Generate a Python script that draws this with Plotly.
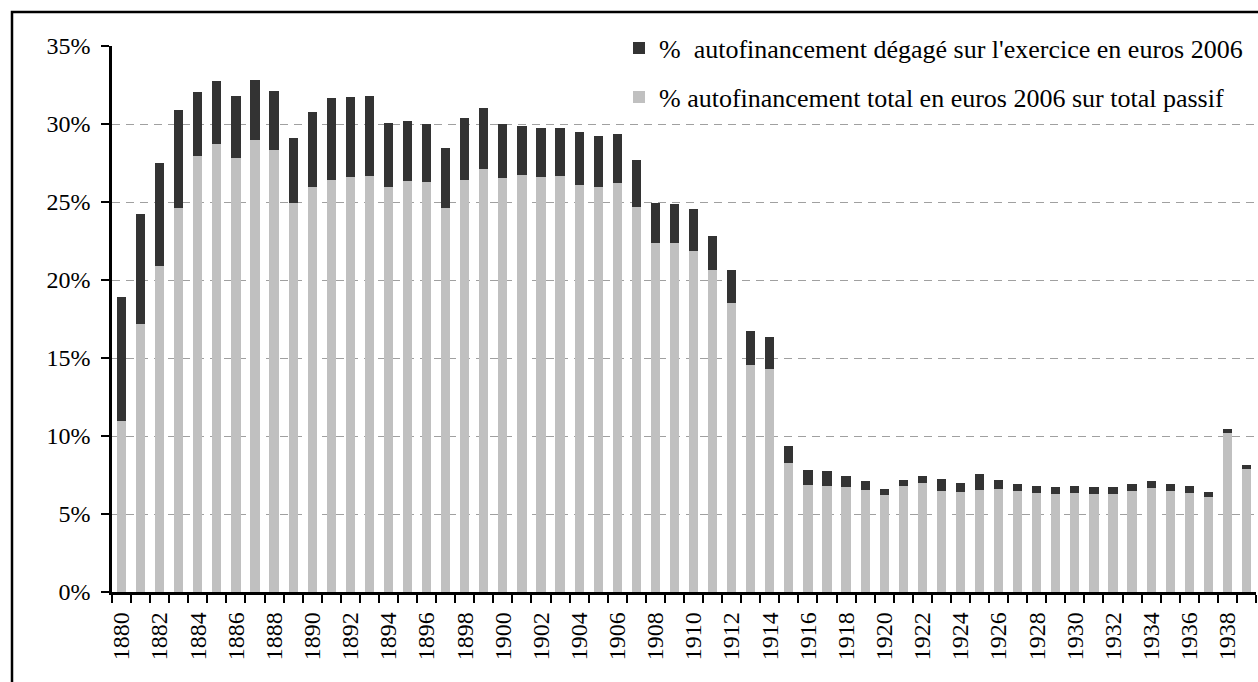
import plotly.graph_objects as go

years = list(range(1880, 1940))

# % autofinancement total en euros 2006 sur total passif (grey, bottom)
total_pct = [10.98, 17.18, 20.87, 24.64, 27.92, 28.71, 27.81, 28.97, 28.33, 24.92,
             25.99, 26.38, 26.59, 26.64, 25.95, 26.33, 26.26, 24.59, 26.38, 27.09,
             26.52, 26.71, 26.59, 26.64, 26.07, 25.95, 26.19, 24.71, 22.40, 22.40,
             21.87, 20.66, 18.54, 14.53, 14.27, 8.24, 6.87, 6.82, 6.75, 6.56,
             6.24, 6.82, 7.01, 6.50, 6.43, 6.56, 6.62, 6.50, 6.37, 6.30,
             6.37, 6.30, 6.30, 6.50, 6.69, 6.50, 6.37, 6.11, 10.21, 7.91]

# % autofinancement dégagé sur l'exercice en euros 2006 (dark, stacked on top)
exercice_pct = [7.94, 7.03, 6.60, 6.26, 4.13, 4.05, 4.00, 3.86, 3.79, 4.17,
                4.77, 5.29, 5.15, 5.17, 4.12, 3.86, 3.74, 3.86, 4.00, 3.93,
                3.48, 3.14, 3.15, 3.10, 3.40, 3.26, 3.16, 2.98, 2.52, 2.45,
                2.65, 2.19, 2.12, 2.20, 2.08, 1.15, 0.97, 0.96, 0.71, 0.58,
                0.38, 0.38, 0.45, 0.76, 0.58, 1.03, 0.58, 0.44, 0.45, 0.45,
                0.45, 0.45, 0.45, 0.44, 0.45, 0.44, 0.45, 0.32, 0.26, 0.25]

label_years = list(range(1880, 1940, 2))
y_ticks = [0, 5, 10, 15, 20, 25, 30, 35]

name_total = "% autofinancement total en euros 2006 sur total passif"
name_exercice = "%\u00a0 autofinancement dégagé sur l'exercice en euros 2006"

FONT = "Liberation Serif, Times New Roman, serif"
FS = 24
LFS = 26

fig = go.Figure()
fig.add_trace(go.Bar(x=years, y=total_pct, name=name_total, legend="legend2",
                     marker=dict(color="#c0c0c0", line=dict(width=0))))
fig.add_trace(go.Bar(x=years, y=exercice_pct, name=name_exercice, legend="legend",
                     marker=dict(color="#333333", line=dict(width=0))))

LEG_X = (619 - 112) / 1144

fig.update_layout(
    width=1258, height=682,
    barmode="stack", bargap=0.52,
    paper_bgcolor="white", plot_bgcolor="white",
    font=dict(family=FONT, size=FS, color="black"),
    margin=dict(l=112, r=2, t=46, b=90),
    showlegend=True,
    legend=dict(x=LEG_X, xanchor="left", y=1 - 2 / 546, yanchor="middle",
                bgcolor="white", borderwidth=0, itemwidth=30,
                font=dict(family=FONT, size=LFS, color="black")),
    legend2=dict(x=LEG_X, xanchor="left", y=1 - 51 / 546, yanchor="middle",
                 bgcolor="rgba(0,0,0,0)", borderwidth=0, itemwidth=30,
                 font=dict(family=FONT, size=LFS, color="black")),
    xaxis=dict(
        range=[1879.5, 1939.5], tickmode="array", tickvals=label_years,
        ticktext=[str(y) for y in label_years], tickangle=-90,
        ticks="", ticklabelstandoff=8, showgrid=False, zeroline=False,
        showline=True, linecolor="black", linewidth=2.5,
        minor=dict(tickmode="linear", tick0=1879.5, dtick=1, ticks="outside",
                   ticklen=8, tickwidth=2, tickcolor="black", showgrid=False),
    ),
    yaxis=dict(
        range=[0, 35], tickmode="array", tickvals=y_ticks,
        ticktext=[f"{v}%" for v in y_ticks],
        ticks="outside", ticklen=8, tickwidth=2, tickcolor="black",
        ticklabelstandoff=6,
        showgrid=True, gridcolor="#a0a0a0", gridwidth=1, griddash="8px,6px",
        zeroline=False, showline=True, linecolor="black", linewidth=2.5,
    ),
    shapes=[dict(type="rect", xref="paper", yref="paper",
                 x0=(12 - 112) / 1144, x1=1.2,
                 y0=-0.3, y1=1 + (46 - 12) / 546,
                 line=dict(color="black", width=2.5), fillcolor="rgba(0,0,0,0)",
                 layer="below")],
)

fig.write_html("out.html",
               config={"displayModeBar": False},
               post_script="document.body.style.margin='0';"
                           "document.body.style.overflow='hidden';")
